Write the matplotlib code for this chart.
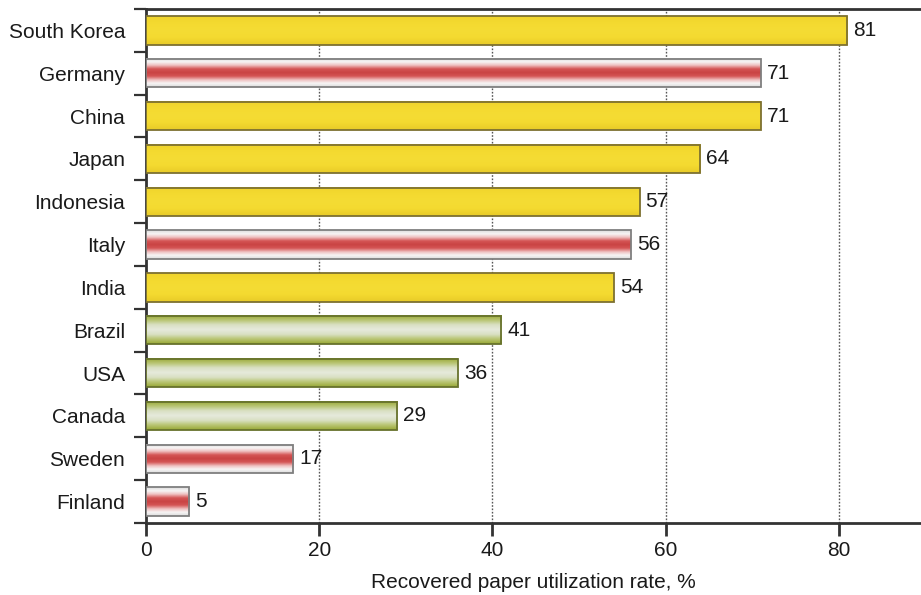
import numpy as np
import matplotlib
matplotlib.use("Agg")
import matplotlib.pyplot as plt
from matplotlib.colors import LinearSegmentedColormap
from matplotlib.patches import Rectangle

countries = ["South Korea", "Germany", "China", "Japan", "Indonesia", "Italy",
             "India", "Brazil", "USA", "Canada", "Sweden", "Finland"]
rates = [81, 71, 71, 64, 57, 56, 54, 41, 36, 29, 17, 5]
groups = ["asia", "europe", "asia", "asia", "asia", "europe",
          "asia", "americas", "americas", "americas", "europe", "europe"]

plt.rcParams["font.family"] = ["Liberation Sans", "DejaVu Sans"]

# vertical colour profiles across a bar (top -> bottom)
profiles = {
    "asia": (["#f0d42c", "#f4da30", "#f5dc34", "#f4da30", "#e8cb28"], "#7d7130"),
    "europe": (["#dcdcdc", "#f7f5f5", "#eebcbc", "#d45454", "#c94444",
                "#d45454", "#eebcbc", "#f7f5f5", "#dcdcdc"], "#7f7f7f"),
    "americas": (["#98a836", "#b9c573", "#d9e0c3", "#e6eadc", "#d9e0c3",
                  "#b9c573", "#98a836"], "#67722c"),
}

fig = plt.figure(figsize=(9.21, 5.95), dpi=100)
ax = fig.add_axes([146 / 921, 1 - 523 / 595, 1 - 146 / 921, (523 - 9) / 595])

n = len(countries)
ypos = np.arange(n)
bar_h = 0.66
xmax = 89.5

for y, val, grp in zip(ypos, rates, groups):
    cols, edge = profiles[grp]
    cmap = LinearSegmentedColormap.from_list(grp, cols)
    grad = np.linspace(0, 1, 64).reshape(-1, 1)
    ax.imshow(grad, cmap=cmap, aspect="auto", interpolation="bilinear",
              extent=(0, val, y + bar_h / 2, y - bar_h / 2), origin="upper", zorder=3)
    ax.add_patch(Rectangle((0, y - bar_h / 2), val, bar_h, fill=False,
                           edgecolor=edge, linewidth=1.3, zorder=4))
    ax.text(val + 0.7, y, f"{val}", va="center", ha="left", fontsize=15,
            color="#1a1a1a", zorder=5)

ax.set_xlim(0, xmax)
ax.set_ylim(n - 0.5, -0.5)

ax.set_xticks([0, 20, 40, 60, 80])
ax.tick_params(axis="x", direction="out", length=9, width=2, color="#333333",
               labelsize=15, pad=4, labelcolor="#1a1a1a")
ax.set_yticks(ypos)
ax.set_yticklabels(countries)
ax.tick_params(axis="y", which="major", length=0, labelsize=15, pad=15,
               labelcolor="#1a1a1a")
ax.set_yticks(np.arange(-0.5, n, 1.0), minor=True)
ax.tick_params(axis="y", which="minor", direction="out", length=9, width=1.6,
               color="#333333")

for gx in [20, 40, 60, 80]:
    ax.axvline(gx, color="#555555", linestyle=(0, (1.2, 1.2)), linewidth=1.0, zorder=1)

for side in ["left", "top", "bottom"]:
    ax.spines[side].set_linewidth(2)
    ax.spines[side].set_color("#333333")
ax.spines["right"].set_visible(False)

ax.set_xlabel("Recovered paper utilization rate, %", fontsize=15, color="#1a1a1a",
              labelpad=9)

fig.savefig("out.png", dpi=100)
